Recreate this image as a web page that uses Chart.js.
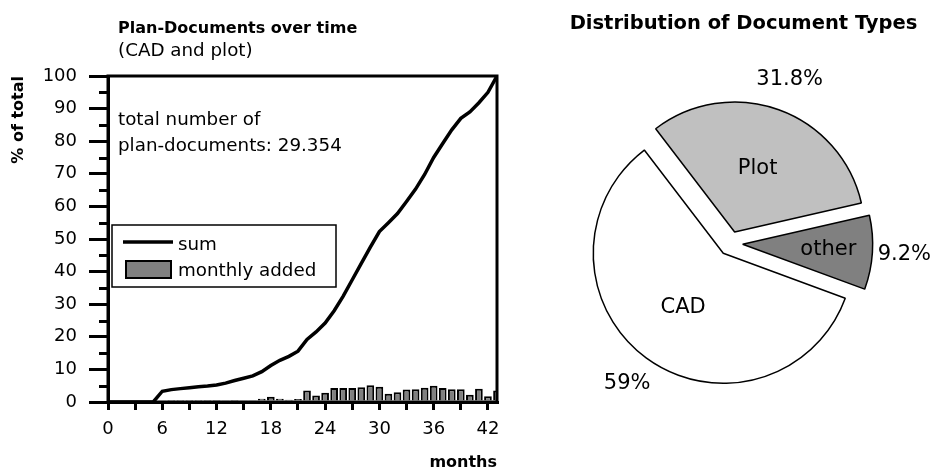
<!DOCTYPE html>
<html><head><meta charset="utf-8">
<script src="https://cdn.jsdelivr.net/npm/chart.js@4.4.1/dist/chart.umd.min.js"></script>
<style>
html,body{margin:0;padding:0;background:#fff;width:933px;height:471px;overflow:hidden}
#c1{position:absolute;left:0;top:0}
#c2{position:absolute;left:520px;top:0}
</style></head><body>
<canvas id="c1" width="520" height="471"></canvas>
<canvas id="c2" width="413" height="471"></canvas>
<script>
// ---- data ----
const months = [0,1,2,3,4,5,6,7,8,9,10,11,12,13,14,15,16,17,18,19,20,21,22,23,24,25,26,27,28,29,30,31,32,33,34,35,36,37,38,39,40,41,42,43];
const sumPercent = [0,0,0,0,0,0,3.3,3.8,4.1,4.4,4.7,4.9,5.2,5.8,6.6,7.3,8.0,9.3,11.2,12.8,14.0,15.6,19.2,21.5,24.2,28.0,32.5,37.5,42.5,47.5,52.3,55.0,57.8,61.5,65.3,69.8,75.0,79.3,83.5,87.0,89.0,91.8,95.0,100];
const barMonths = [6,7,8,9,10,11,12,13,14,15,16,17,18,19,20,21,22,23,24,25,26,27,28,29,30,31,32,33,34,35,36,37,38,39,40,41,42,43];
const monthlyAdded = [0.5,0.2,0.2,0.2,0.2,0.3,0.3,0.4,0.3,0.4,0.5,1.0,1.6,1.0,0.7,0.9,3.5,2.0,2.8,4.3,4.3,4.3,4.5,5.1,4.7,2.5,3.0,3.8,3.9,4.4,5.0,4.3,3.9,3.9,2.2,4.1,1.8,3.5];
const xTickValues = [0,6,12,18,24,30,36,42];
const yTickValues = [0,10,20,30,40,50,60,70,80,90,100];
const leftTitle = 'Plan-Documents over time';
const leftSubtitle = '(CAD and plot)';
const noteLines = ['total number of', 'plan-documents: 29.354'];

const docTypes = ['CAD', 'Plot', 'other'];
const docShares = [59, 31.8, 9.2];
const docShareLabels = ['59%', '31.8%', '9.2%'];
const rightTitle = 'Distribution of Document Types';

const FONT = '"DejaVu Sans", sans-serif';
Chart.defaults.font.family = FONT;
Chart.defaults.color = '#000';

// ---- left chart ----
const leftDecor = {
  id: 'leftDecor',
  afterDraw(chart) {
    const ctx = chart.ctx, ca = chart.chartArea, y = chart.scales.y;
    ctx.save();
    // minor y ticks
    ctx.strokeStyle = '#000'; ctx.lineWidth = 3;
    for (let v = 5; v < 100; v += 10) {
      const py = Math.round(y.getPixelForValue(v)) + 0.5;
      ctx.beginPath(); ctx.moveTo(ca.left - 9, py); ctx.lineTo(ca.left, py); ctx.stroke();
    }
    // frame
    ctx.lineWidth = 3;
    ctx.strokeRect(ca.left, ca.top, ca.right - ca.left, ca.bottom - ca.top);
    // titles
    ctx.fillStyle = '#000'; ctx.textBaseline = 'alphabetic'; ctx.textAlign = 'left';
    ctx.font = 'bold 16px ' + FONT;
    ctx.fillText(leftTitle, 118, 33);
    ctx.font = '18.3px ' + FONT;
    ctx.fillText(leftSubtitle, 118, 56);
    ctx.fillText(noteLines[0], 118, 125);
    ctx.fillText(noteLines[1], 118, 151);
    // legend box
    ctx.fillStyle = '#fff';
    ctx.fillRect(112, 225, 224, 62);
    ctx.lineWidth = 1.5; ctx.strokeStyle = '#000';
    ctx.strokeRect(112, 225, 224, 62);
    const ds = chart.data.datasets;
    // line sample
    ctx.lineWidth = ds[0].borderWidth; ctx.strokeStyle = ds[0].borderColor;
    ctx.beginPath(); ctx.moveTo(123, 242); ctx.lineTo(173, 242); ctx.stroke();
    // bar sample
    ctx.fillStyle = ds[1].backgroundColor; ctx.fillRect(126, 261, 45, 17);
    ctx.lineWidth = 2; ctx.strokeStyle = ds[1].borderColor; ctx.strokeRect(126, 261, 45, 17);
    ctx.fillStyle = '#000'; ctx.font = '18.3px ' + FONT;
    ctx.fillText(ds[0].label, 178, 250);
    ctx.fillText(ds[1].label, 178, 276);
    ctx.restore();
  }
};

new Chart(document.getElementById('c1'), {
  type: 'line',
  data: {
    datasets: [
      {
        type: 'line', label: 'sum', order: 0,
        data: months.map((m, i) => ({x: m, y: sumPercent[i]})),
        borderColor: '#000', borderWidth: 3.5, pointRadius: 0, tension: 0, fill: false
      },
      {
        type: 'bar', label: 'monthly added', order: 1,
        data: barMonths.map((m, i) => ({x: m, y: monthlyAdded[i]})),
        backgroundColor: '#808080', borderColor: '#000', borderWidth: 2,
        barPercentage: 0.85, categoryPercentage: 1.0
      }
    ]
  },
  options: {
    responsive: false, animation: false, devicePixelRatio: 1,
    layout: {padding: {left: 0, top: 76, right: 23, bottom: 0}},
    plugins: {legend: {display: false}, tooltip: {enabled: false}, title: {display: false}},
    scales: {
      x: {
        type: 'linear', min: 0, max: 43, offset: false,
        afterFit: s => { s.height = 69; },
        border: {display: true, color: '#000', width: 3},
        grid: {offset: false, drawOnChartArea: false, drawTicks: true, tickLength: 8, lineWidth: 3, color: '#000'},
        ticks: {stepSize: 3, includeBounds: false, autoSkip: false, maxRotation: 0, padding: 9,
          font: {size: 18}, color: '#000',
          callback: v => xTickValues.includes(v) ? String(v) : ''},
        title: {display: true, text: 'months', align: 'end', color: '#000',
          font: {size: 16, weight: 'bold', lineHeight: 1}, padding: {top: 0, bottom: 0}}
      },
      y: {
        type: 'linear', min: 0, max: 100,
        afterFit: s => { s.width = 108; },
        border: {display: true, color: '#000', width: 3},
        grid: {drawOnChartArea: false, drawTicks: true, tickLength: 19, lineWidth: 3,
          color: c => (c.tick && yTickValues.includes(c.tick.value)) ? '#000' : 'rgba(0,0,0,0)'},
        ticks: {stepSize: 5, autoSkip: false, padding: 12, font: {size: 18}, color: '#000',
          callback: v => yTickValues.includes(v) ? String(v) : ''},
        title: {display: true, text: '% of total', align: 'end', color: '#000',
          font: {size: 16, weight: 'bold'}, padding: {top: 9, bottom: 0}}
      }
    }
  },
  plugins: [leftDecor]
});

// ---- right chart (pie) ----
const EXPLODE = 12.2;
const pieDecor = {
  id: 'pieDecor',
  beforeDatasetDraw(chart, args) {
    const ctx = chart.ctx;
    args.meta.data.forEach(arc => {
      const mid = (arc.startAngle + arc.endAngle) / 2;
      ctx.save();
      ctx.translate(Math.cos(mid) * EXPLODE, Math.sin(mid) * EXPLODE);
      arc.draw(ctx);
      ctx.restore();
    });
    return false;
  },
  afterDraw(chart) {
    const ctx = chart.ctx;
    const meta = chart.getDatasetMeta(0);
    ctx.save();
    ctx.fillStyle = '#000'; ctx.textAlign = 'center'; ctx.textBaseline = 'middle';
    ctx.font = '21px ' + FONT;
    meta.data.forEach((arc, i) => {
      const mid = (arc.startAngle + arc.endAngle) / 2;
      const span = arc.endAngle - arc.startAngle;
      const R = arc.outerRadius;
      const rin = EXPLODE + R * (span < Math.PI / 2 ? 0.66 : 0.52);
      ctx.fillText(chart.data.labels[i], arc.x + Math.cos(mid) * rin, arc.y + Math.sin(mid) * rin);
      const rout = EXPLODE + R + 32;
      ctx.fillText(docShareLabels[i], arc.x + Math.cos(mid) * rout, arc.y + Math.sin(mid) * rout);
    });
    ctx.textBaseline = 'alphabetic';
    ctx.font = 'bold 19.5px ' + FONT;
    ctx.fillText(rightTitle, 223.5, 29);
    ctx.restore();
  }
};

new Chart(document.getElementById('c2'), {
  type: 'pie',
  data: {
    labels: docTypes,
    datasets: [{
      data: docShares,
      backgroundColor: ['#ffffff', '#c0c0c0', '#808080'],
      borderColor: '#000', borderWidth: 1.5
    }]
  },
  options: {
    responsive: false, animation: false, devicePixelRatio: 1,
    rotation: 110.2, radius: 130,
    layout: {padding: {left: 8, top: 16, right: 0, bottom: 0}},
    plugins: {legend: {display: false}, tooltip: {enabled: false}, title: {display: false}}
  },
  plugins: [pieDecor]
});
</script>
</body></html>
